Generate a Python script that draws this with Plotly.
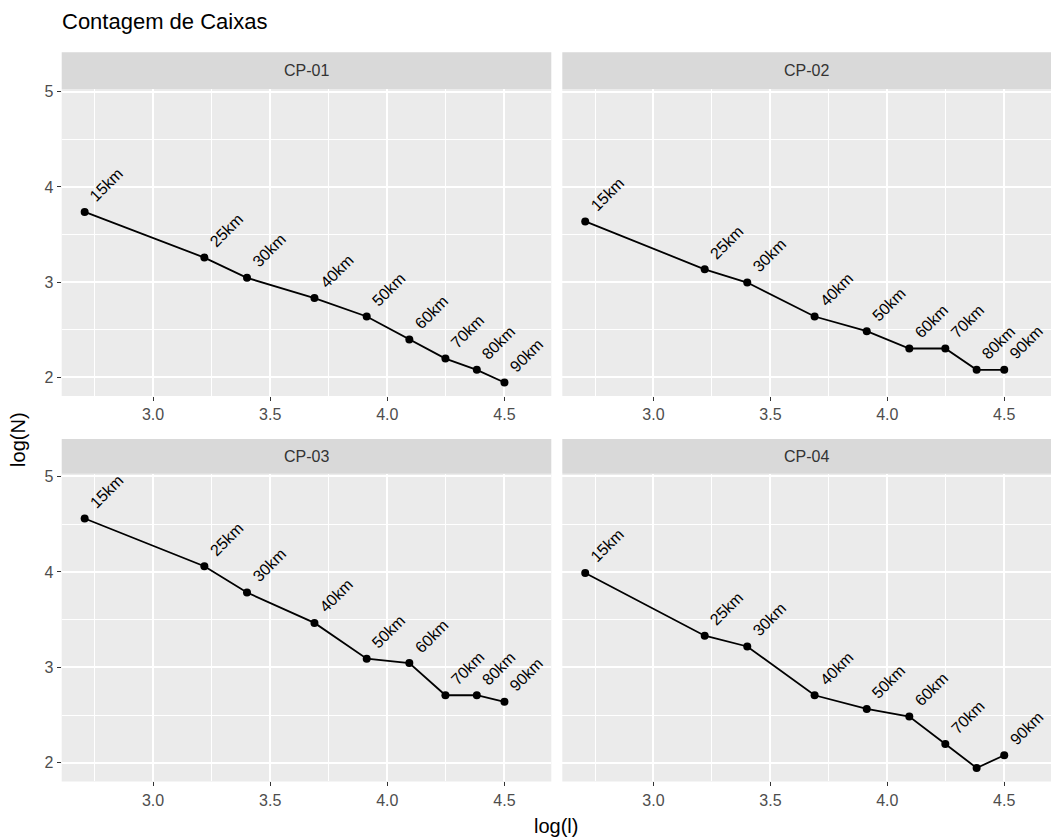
import plotly.graph_objects as go

# ---- data ----
log_l = [2.708, 3.219, 3.401, 3.689, 3.912, 4.094, 4.248, 4.382, 4.500]
dist_labels = ["15km", "25km", "30km", "40km", "50km", "60km", "70km", "80km", "90km"]
panels = ["CP-01", "CP-02", "CP-03", "CP-04"]
cp01 = [3.738, 3.258, 3.045, 2.833, 2.639, 2.398, 2.197, 2.079, 1.946]
cp02 = [3.638, 3.135, 2.996, 2.639, 2.485, 2.303, 2.303, 2.079, 2.079]
cp03 = [4.560, 4.060, 3.784, 3.466, 3.091, 3.045, 2.708, 2.708, 2.639]
cp04 = [3.989, 3.332, 3.219, 2.708, 2.565, 2.485, 2.197, 1.946, 2.079]
cp04_labels = ["15km", "25km", "30km", "40km", "50km", "60km", "70km", "", "90km"]
x_ticks = [3.0, 3.5, 4.0, 4.5]
y_ticks = [2, 3, 4, 5]

series = [cp01, cp02, cp03, cp04]
label_sets = [dist_labels, dist_labels, dist_labels, cp04_labels]

W, H = 1051, 840
# layout geometry in pixels
col_px = [(61.7, 551.3), (562.3, 1051.0)]
row_px = [(83.5, 392.7), (471.0, 781.0)]      # plot areas (top, bottom)
strip_px = [(46.5, 83.5), (436.0, 471.0)]

def px2x(p):
    return p / W

def px2y(p):
    return 1 - p / H

fig = go.Figure()

FONT = "Liberation Sans, Arial, sans-serif"
PANEL_BG = "#EBEBEB"
TICKFONT = dict(family=FONT, size=16, color="#4D4D4D")

for i, (name, yv, labs) in enumerate(zip(panels, series, label_sets)):
    r, c = divmod(i, 2)
    idx = "" if i == 0 else str(i + 1)
    xa, ya = "x" + idx, "y" + idx
    fig.add_trace(go.Scatter(
        x=log_l, y=yv, mode="lines+markers",
        line=dict(color="black", width=1.8),
        marker=dict(color="black", size=8),
        xaxis=xa, yaxis=ya, showlegend=False, hoverinfo="skip"))
    for xv, yy, t in zip(log_l, yv, labs):
        if not t:
            continue
        fig.add_annotation(x=xv, y=yy, xref=xa, yref=ya, text=t, showarrow=False,
                           textangle=-45, xanchor="center", yanchor="middle",
                           xshift=22, yshift=27,
                           font=dict(family=FONT, size=16, color="black"))
    x0, x1 = col_px[c]
    t0, t1 = row_px[r]
    fig.layout["xaxis" + idx] = dict(
        domain=[px2x(x0), px2x(x1)], anchor=ya, range=[2.61, 4.70],
        tickvals=x_ticks, ticktext=["3.0", "3.5", "4.0", "4.5"],
        showgrid=True, gridcolor="white", gridwidth=1.6,
        minor=dict(tick0=2.75, dtick=0.5, showgrid=True, gridcolor="white", gridwidth=0.8, ticks=""),
        zeroline=False, showline=False, ticks="outside", ticklen=4, tickwidth=1.2,
        tickcolor="#333333", tickfont=TICKFONT, fixedrange=True)
    fig.layout["yaxis" + idx] = dict(
        domain=[px2y(t1), px2y(t0)], anchor=xa, range=[1.805, 5.03],
        tickvals=y_ticks, showticklabels=(c == 0),
        showgrid=True, gridcolor="white", gridwidth=1.6,
        minor=dict(tick0=2.5, dtick=1, showgrid=True, gridcolor="white", gridwidth=0.8, ticks=""),
        zeroline=False, showline=False, ticks="outside" if c == 0 else "", ticklen=4, tickwidth=1.2,
        tickcolor="#333333", tickfont=TICKFONT, fixedrange=True)
    # panel background
    fig.add_shape(type="rect", xref="paper", yref="paper", layer="below",
                  x0=px2x(x0), x1=px2x(x1), y0=px2y(t1), y1=px2y(t0),
                  fillcolor=PANEL_BG, line=dict(width=0))
    # strip
    s0, s1 = strip_px[r]
    fig.add_shape(type="rect", xref="paper", yref="paper", layer="below",
                  x0=px2x(x0), x1=px2x(x1), y0=px2y(s1), y1=px2y(s0),
                  fillcolor="#D9D9D9", line=dict(width=0))
    fig.add_annotation(x=(px2x(x0) + px2x(x1)) / 2, y=(px2y(s0) + px2y(s1)) / 2,
                       xref="paper", yref="paper", text=name, showarrow=False,
                       xanchor="center", yanchor="middle",
                       font=dict(family=FONT, size=16, color="#333333"))

# axis titles
fig.add_annotation(x=px2x(556), y=px2y(826), xref="paper", yref="paper", text="log(l)",
                   showarrow=False, xanchor="center", yanchor="middle",
                   font=dict(family=FONT, size=20, color="black"))
fig.add_annotation(x=px2x(18), y=px2y(437), xref="paper", yref="paper", text="log(N)",
                   showarrow=False, xanchor="center", yanchor="middle", textangle=-90,
                   font=dict(family=FONT, size=20, color="black"))

fig.update_layout(
    width=W, height=H,
    margin=dict(l=0, r=0, t=0, b=0),
    paper_bgcolor="white", plot_bgcolor="rgba(0,0,0,0)",
    title=dict(text="Contagem de Caixas", x=62 / W, xanchor="left", y=1 - 21 / H, yanchor="middle",
               font=dict(family=FONT, size=22, color="black")),
    showlegend=False,
)

fig.write_html(
    "out.html",
    config={"displayModeBar": False, "staticPlot": False},
    post_script="document.body.style.margin='0';document.body.style.padding='0';"
                "document.body.style.overflow='hidden';",
)
